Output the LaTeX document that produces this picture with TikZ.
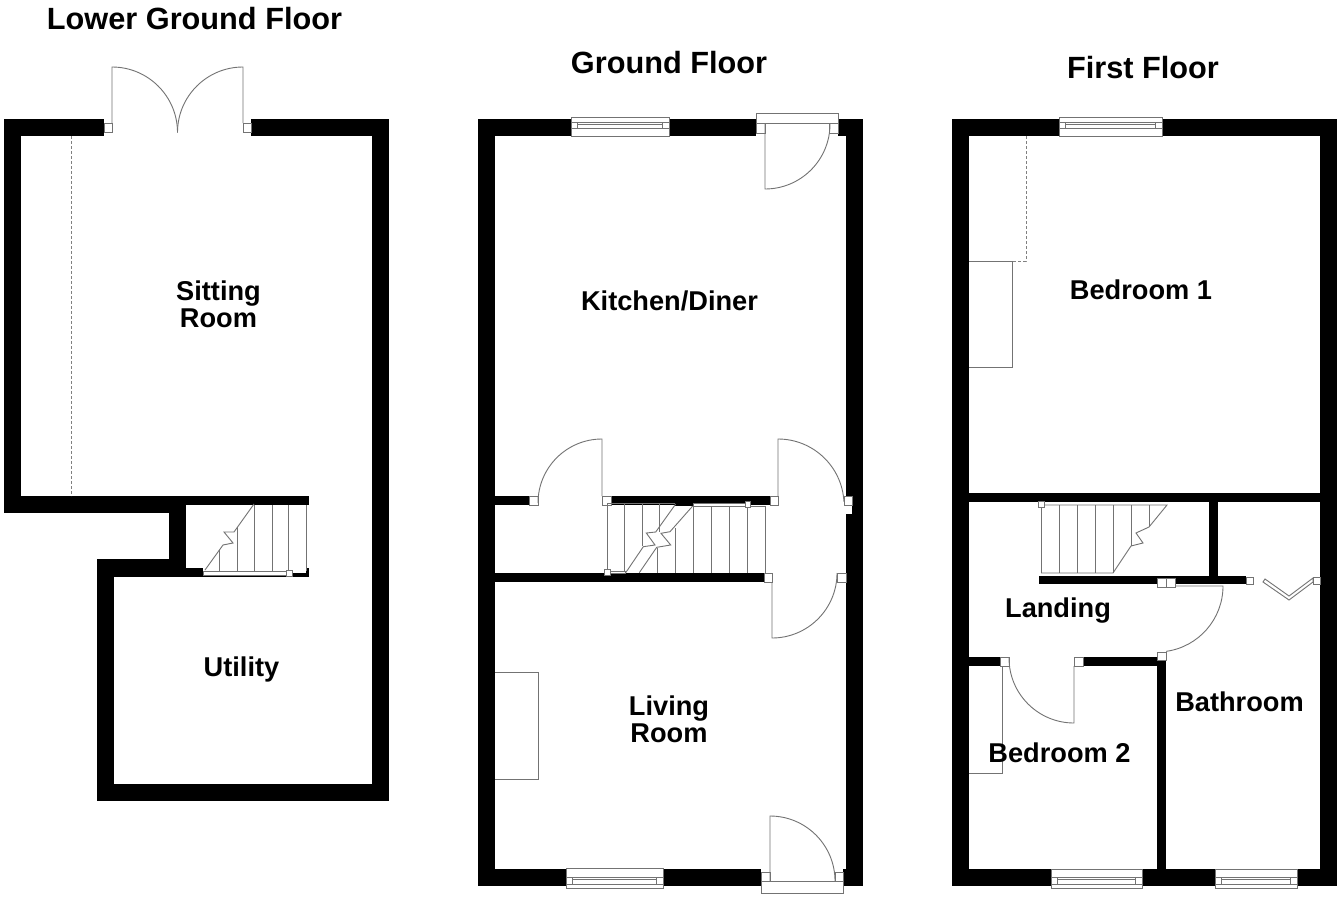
\documentclass[tikz,border=0pt]{standalone}
\usepackage{fontspec}
\setmainfont{Liberation Sans}
\tikzset{
  wall/.style={fill=black},
  thinline/.style={draw=black!55,line width=0.9pt},
  jambbox/.style={draw=black!55,line width=0.9pt,fill=white},
  dashline/.style={draw=black!50,line width=0.8pt,densely dashed},
  floortitle/.style={font=\fontsize{30.7}{33}\bfseries\selectfont,text=black,align=center},
  roomlabel/.style={font=\fontsize{27.2}{27}\bfseries\selectfont,text=black,align=center}
}
% window: x1,x2,top,bottom,then the three rails
\newcommand{\windowbox}[7]{
  \draw[jambbox] (#1,#3) rectangle (#2,#4);
  \draw[thinline] (#1,#5) -- (#2,#5) (#1,#7) -- (#2,#7);
  \draw[thinline] (#1+6.5,#5) -- (#1+6.5,#7) (#2-6.5,#5) -- (#2-6.5,#7) (#1+6.5,#6) -- (#2-6.5,#6);
}
\begin{document}
\begin{tikzpicture}[x=1pt,y=-1pt]
  \path[use as bounding box,fill=white] (0,0) rectangle (1344,897);

  % lower ground floor
  \fill[wall] (4,119) rectangle (104,136);
  \fill[wall] (251,119) rectangle (389,136);
  \fill[wall] (4,119) rectangle (21,513);
  \fill[wall] (372,119) rectangle (389,801);
  \fill[wall] (97,784) rectangle (389,801);
  \fill[wall] (97,559) rectangle (114,801);
  \fill[wall] (4,496) rectangle (186,513);
  \fill[wall] (169,496) rectangle (186,577);
  \fill[wall] (186,496) rectangle (309,505);
  \fill[wall] (97,559) rectangle (186,577);
  \fill[wall] (186,568) rectangle (203,577);
  \fill[wall] (203,575) rectangle (292,577);
  \fill[wall] (292,573) rectangle (309,577);
  \fill[wall] (306,568) rectangle (309,577);
  % garden doors
  \draw[jambbox] (104,123) rectangle (112,132);
  \draw[jambbox] (243,123) rectangle (251,132);
  \draw[thinline] (112,123) -- (112,67) arc[start angle=90,end angle=0,radius=65.5pt];
  \draw[thinline] (243,123) -- (243,67) arc[start angle=90,end angle=180,radius=65.5pt];
  \draw[dashline] (71,136) -- (71,496);
  % stairs
  \foreach \tx/\ty in {219/550,237/527,254/505,272/505,288/505,306/505}
    \draw[thinline] (\tx,\ty) -- (\tx,571);
  \draw[thinline] (205,570) -- (223,545) -- (233,543) -- (224,532) -- (234,532) -- (254,504);
  \draw[jambbox] (203,571) rectangle (287,575);
  \draw[jambbox] (286,570) rectangle (292,576);

  % ground floor
  \fill[wall] (478,119) rectangle (572,136);
  \fill[wall] (668,119) rectangle (756,136);
  \fill[wall] (838,119) rectangle (863,136);
  \fill[wall] (478,119) rectangle (495,886);
  \fill[wall] (846,119) rectangle (863,496);
  \fill[wall] (852,496) rectangle (863,514);
  \fill[wall] (846,514) rectangle (863,886);
  \fill[wall] (478,869) rectangle (761,886);
  \fill[wall] (843,869) rectangle (863,886);
  \fill[wall] (495,496) rectangle (529,505);
  \fill[wall] (611,496) rectangle (770,505);
  \fill[wall] (675,503) rectangle (693,506);
  \fill[wall] (495,573) rectangle (764,582);
  \windowbox{571}{669}{117}{136}{122}{124.5}{128}
  \windowbox{566}{663}{868}{888}{877}{879.5}{884}
  % back door
  \draw[jambbox] (756,113) rectangle (838,123);
  \draw[jambbox] (756,123) rectangle (765,133);
  \draw[jambbox] (829,123) rectangle (838,133);
  \draw[thinline] (765,123) -- (765,189) arc[start angle=270,end angle=360,radius=65pt];
  % front door
  \draw[jambbox] (761,881) rectangle (843,893);
  \draw[jambbox] (761,872) rectangle (770,881);
  \draw[jambbox] (835,872) rectangle (843,881);
  \draw[thinline] (770,881) -- (770,816) arc[start angle=90,end angle=0,radius=65pt];
  % hall doors
  \draw[jambbox] (529,496) rectangle (538,505);
  \draw[jambbox] (602,496) rectangle (611,505);
  \draw[thinline] (602,496) -- (602,439) arc[start angle=90,end angle=180,radius=64pt] -- (538,496);
  \draw[jambbox] (770,496) rectangle (778,505);
  \draw[jambbox] (844,496) rectangle (852,505);
  \draw[thinline] (778,496) -- (778,439) arc[start angle=90,end angle=3,radius=66pt];
  \draw[jambbox] (764,573) rectangle (772,582);
  \draw[jambbox] (837,573) rectangle (846,582);
  \draw[thinline] (772,582) -- (772,638) arc[start angle=270,end angle=360,radius=65pt];
  % chimney breast
  \draw[thinline] (495,672) -- (538,672) -- (538,779) -- (495,779);
  % stairs
  \draw[thinline] (607,503) -- (607,571);
  \draw[thinline] (607,503.5) -- (675,503.5);
  \draw[thinline] (693,506) -- (765,506);
  \foreach \tx/\ta/\tb in {624/503/573,642/503/546,659/503/532,657/548/573,675/528/573,693/506/573,711/506/573,729/506/573,747/506/573,765/506/573}
    \draw[thinline] (\tx,\ta) -- (\tx,\tb);
  \draw[thinline] (675.7,504) -- (655.7,532) -- (646.3,533) -- (655,545) -- (643.3,546.7) -- (625.7,572.7);
  \draw[thinline] (692.7,506) -- (670,531.7) -- (661,533.3) -- (670.7,545) -- (656.7,547.3) -- (639.3,572.7);
  \draw[jambbox] (693,503) rectangle (747,506);
  \draw[jambbox] (745,501) rectangle (750,507);
  \draw[jambbox] (610,571) rectangle (625,573);
  \draw[jambbox] (604,569) rectangle (610,575);

  % first floor
  \fill[wall] (952,119) rectangle (1059,136);
  \fill[wall] (1162,119) rectangle (1337,136);
  \fill[wall] (952,119) rectangle (969,886);
  \fill[wall] (1320,119) rectangle (1337,886);
  \fill[wall] (952,869) rectangle (1051,886);
  \fill[wall] (1142,869) rectangle (1215,886);
  \fill[wall] (1297,869) rectangle (1337,886);
  \fill[wall] (969,493) rectangle (1320,502);
  \fill[wall] (1209,502) rectangle (1218,576);
  \fill[wall] (1039,576) rectangle (1246,584);
  \fill[wall] (969,657) rectangle (1000,666);
  \fill[wall] (1083,657) rectangle (1157,666);
  \fill[wall] (1157,660) rectangle (1166,869);
  \windowbox{1059}{1162}{117}{136}{122}{124.5}{128}
  \windowbox{1051}{1142}{869}{888}{877}{879.5}{884}
  \windowbox{1215}{1297}{869}{888}{877}{879.5}{884}
  % cupboards
  \draw[dashline] (1026,136) -- (1026,261) -- (969,261);
  \draw[thinline] (969,261) -- (1012,261) -- (1012,367) -- (969,367);
  \draw[thinline] (969,773) -- (1002,773) -- (1002,666);
  % stairs
  \foreach \tx/\tb in {1041/573,1059/573,1077/573,1095/573,1113/573,1131/546,1149/527}
    \draw[thinline] (\tx,505) -- (\tx,\tb);
  \draw[thinline] (1041,505) -- (1167,505) -- (1149,527) -- (1136,533) -- (1143,543) -- (1131,546) -- (1113,573) -- (1041,573);
  \draw[jambbox] (1038,501) rectangle (1044,507);
  % landing doors
  \draw[jambbox] (1157,578) rectangle (1166,587);
  \draw[jambbox] (1166,578) rectangle (1175,587);
  \draw[thinline] (1175,586) -- (1223,586) arc[start angle=0,end angle=-82,radius=66pt];
  \draw[jambbox] (1157,652) rectangle (1166,660);
  \draw[jambbox] (1000,657) rectangle (1009,666);
  \draw[jambbox] (1074,657) rectangle (1083,666);
  \draw[thinline] (1074,666) -- (1074,723) arc[start angle=270,end angle=180,radius=65pt];
  % bifold door
  \draw[jambbox] (1246,577) rectangle (1253,584);
  \draw[jambbox] (1313,577) rectangle (1320,584);
  \draw[thinline] (1265,579) -- (1289,596) -- (1313,578) -- (1313,582) -- (1289,600) -- (1263,582) -- cycle;

  % labels
  \node[floortitle] (lowertitle) at (194.5,19) {Lower Ground Floor};
  \node[floortitle] (groundtitle) at (669,63) {Ground Floor};
  \node[floortitle] (firsttitle) at (1143,68) {First Floor};
  \node[roomlabel] (sitting) at (218.5,304) {Sitting\\Room};
  \node[roomlabel] (utility) at (241.5,669) {Utility};
  \node[roomlabel] (kitchen) at (669.5,301) {Kitchen/Diner};
  \node[roomlabel] (living) at (669,719) {Living\\Room};
  \node[roomlabel] (bedone) at (1141,290) {Bedroom 1};
  \node[roomlabel] (landing) at (1058,611) {Landing};
  \node[roomlabel] (bathroom) at (1239.5,702) {Bathroom};
  \node[roomlabel] (bedtwo) at (1059.5,753) {Bedroom 2};
\end{tikzpicture}
\end{document}
